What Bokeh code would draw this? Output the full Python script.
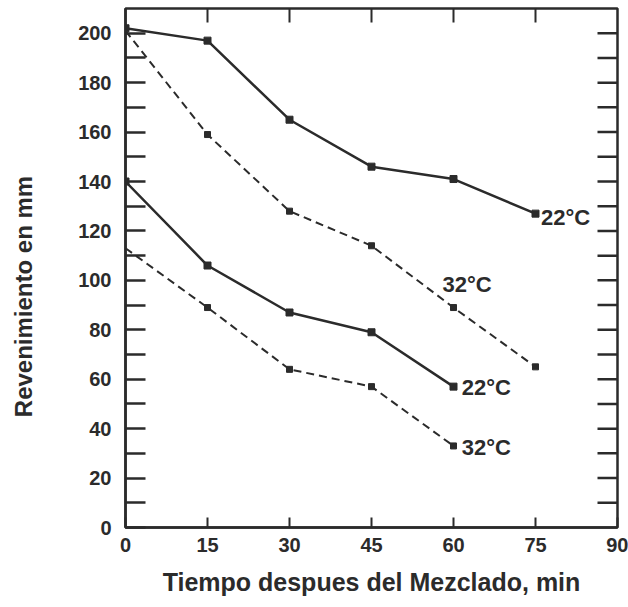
import math
from bokeh.plotting import figure
from bokeh.layouts import row
from bokeh.models import FixedTicker, Range1d, ColumnDataSource
from bokeh.core.properties import value
from bokeh.embed import file_html
from bokeh.resources import INLINE

# ---- data ----
tiempo = [0, 15, 30, 45, 60, 75]
alto_22 = [202, 197, 165, 146, 141, 127]
alto_32 = [201, 159, 128, 114, 89, 65]
tiempo_bajo = [0, 15, 30, 45, 60]
bajo_22 = [140, 106, 87, 79, 57]
bajo_32 = [113, 89, 64, 57, 33]

x_ticks = [0, 15, 30, 45, 60, 75, 90]
y_ticks = [0, 20, 40, 60, 80, 100, 120, 140, 160, 180, 200]
y_minor = [10, 30, 50, 70, 90, 110, 130, 150, 170, 190]
X_MAX = 90
Y_MAX = 210

etiquetas = ["22°C", "32°C", "22°C", "32°C"]
etq_x = [76.0, 58.0, 61.5, 61.5]
etq_y = [125.5, 98.5, 56.5, 32.5]

FONT = "Liberation Sans"
INK = "#2b2b2b"
W, H = 628, 607
STRIP = 45          # narrow strip that carries the y-axis title
B_TOP, B_BOT = 8, 80

# ---- strip with the y-axis title (text glyph, kept inside its own frame) ----
# its y range is expressed in page pixels counted from the bottom of the page
s = figure(width=STRIP, height=H, output_backend="svg", toolbar_location=None,
           x_range=Range1d(0, STRIP), y_range=Range1d(B_BOT, H - B_TOP),
           x_axis_type=None, y_axis_type=None,
           min_border_left=0, min_border_right=0, min_border_top=B_TOP, min_border_bottom=B_BOT,
           background_fill_color="white", border_fill_color="white")
s.grid.visible = False
s.outline_line_color = None
s.text(x=[23], y=[H - 296], text=["Revenimiento en mm"], angle=math.pi / 2,
       text_font=value(FONT), text_font_style="bold", text_font_size="24px",
       text_color=INK, text_align="center", text_baseline="middle")

# ---- main chart ----
p = figure(width=W - STRIP, height=H, output_backend="svg", toolbar_location=None,
           x_range=Range1d(0, X_MAX), y_range=Range1d(0, Y_MAX),
           min_border_left=125 - STRIP, min_border_right=11,
           min_border_top=B_TOP, min_border_bottom=B_BOT,
           background_fill_color="white", border_fill_color="white")
p.grid.visible = False
p.outline_line_color = INK
p.outline_line_width = 2.5

xa = p.xaxis[0]
xa.ticker = FixedTicker(ticks=x_ticks, minor_ticks=[])
xa.major_tick_in = 10
xa.major_tick_out = 0
xa.minor_tick_in = 0
xa.minor_tick_out = 0
xa.axis_line_width = 2.5
xa.axis_line_color = INK
xa.major_tick_line_width = 2
xa.major_tick_line_color = INK
xa.major_label_standoff = 10
xa.major_label_text_font = FONT
xa.major_label_text_font_style = "bold"
xa.major_label_text_font_size = "20px"
xa.major_label_text_color = INK
xa.axis_label = "Tiempo despues del Mezclado, min"
xa.axis_label_text_font = FONT
xa.axis_label_text_font_style = "bold"
xa.axis_label_text_font_size = "25px"
xa.axis_label_text_color = INK
xa.axis_label_standoff = 13

ya = p.yaxis[0]
ya.ticker = FixedTicker(ticks=y_ticks, minor_ticks=y_minor)
ya.major_tick_in = 20
ya.major_tick_out = 0
ya.minor_tick_in = 20
ya.minor_tick_out = 0
ya.axis_line_width = 2.5
ya.axis_line_color = INK
ya.major_tick_line_width = 2.5
ya.minor_tick_line_width = 2.5
ya.major_tick_line_color = INK
ya.minor_tick_line_color = INK
ya.major_label_standoff = 14
ya.major_label_text_font = FONT
ya.major_label_text_font_style = "bold"
ya.major_label_text_font_size = "20px"
ya.major_label_text_color = INK

# mirrored ticks on right and top edges (clipped to the frame)
right_ticks = [t for t in sorted(y_ticks + y_minor) if t > 0]
p.scatter([X_MAX] * len(right_ticks), right_ticks, marker="dash", size=40,
          line_color=INK, line_width=2.5)
top_ticks = [t for t in x_ticks if 0 < t < X_MAX]
p.scatter(top_ticks, [Y_MAX] * len(top_ticks), marker="dash", size=28, angle=math.pi / 2,
          line_color=INK, line_width=2)

# series
p.line(tiempo, alto_22, line_color=INK, line_width=2.5)
p.scatter(tiempo, alto_22, marker="square", size=7, fill_color=INK, line_color=INK)
p.line(tiempo, alto_32, line_color=INK, line_width=2, line_dash="8 5")
p.scatter(tiempo[1:], alto_32[1:], marker="square", size=6, fill_color=INK, line_color=INK)
p.line(tiempo_bajo, bajo_22, line_color=INK, line_width=2.5)
p.scatter(tiempo_bajo, bajo_22, marker="square", size=7, fill_color=INK, line_color=INK)
p.line(tiempo_bajo, bajo_32, line_color=INK, line_width=2, line_dash="8 5")
p.scatter(tiempo_bajo[1:], bajo_32[1:], marker="square", size=6, fill_color=INK, line_color=INK)

src = ColumnDataSource(dict(x=etq_x, y=etq_y, t=etiquetas))
p.text(x="x", y="y", text="t", source=src, text_font=value(FONT), text_font_size="22px",
       text_font_style="bold", text_color=INK, text_baseline="middle", text_align="left")

layout = row(s, p, spacing=0)
open("out.html", "w").write(file_html(layout, INLINE))
